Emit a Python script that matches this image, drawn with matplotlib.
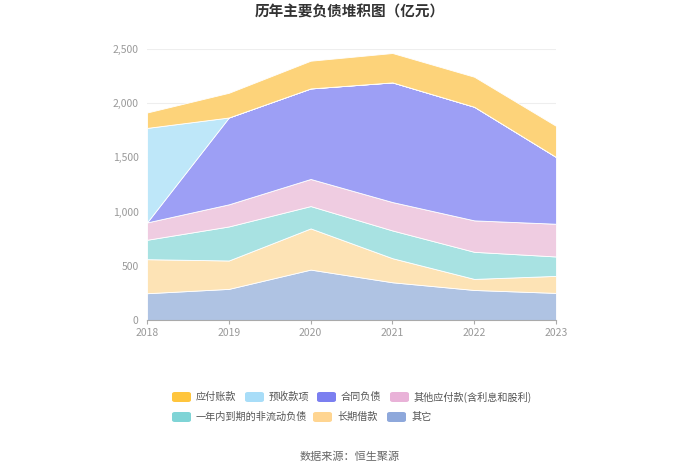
import matplotlib
matplotlib.use("Agg")
import matplotlib.pyplot as plt
from matplotlib.patches import FancyBboxPatch
import numpy as np

plt.rcParams['font.family'] = ['Noto Sans CJK SC', 'DejaVu Sans']

years = [2018, 2019, 2020, 2021, 2022, 2023]
series_names = ["其它", "长期借款", "一年内到期的非流动负债", "其他应付款(含利息和股利)", "合同负债", "预收款项", "应付账款"]
other = [247, 287, 465, 348, 277, 250]
long_loan = [314, 262, 380, 222, 102, 157]
current_nc = [179, 314, 206, 256, 250, 179]
other_pay = [160, 204, 250, 262, 290, 302]
contract = [0, 801, 835, 1104, 1048, 616]
advance = [872, 0, 0, 0, 0, 0]
ap = [142, 228, 256, 271, 277, 287]

fill_colors = ["#AFC3E3", "#FDE3B5", "#A8E2E2", "#EFCCE1", "#9D9FF5", "#BEE7F9", "#FDD37A"]
swatch_colors = ["#8EA8DB", "#FFD591", "#7FD4D6", "#E9B2D8", "#7B7FF0", "#A8DDF8", "#FFC53D"]

fig = plt.figure(figsize=(7, 4.74), dpi=100)
ax = fig.add_axes([147/700, 1-320/474, (556-147)/700, (320-49)/474])
ax.stackplot(years, other, long_loan, current_nc, other_pay, contract, advance, ap,
             colors=fill_colors, edgecolor="white", linewidth=0.6)
ax.set_xlim(2018, 2023)
ax.set_ylim(0, 2500)
ax.set_xticks(years)
ax.set_yticks([0, 500, 1000, 1500, 2000, 2500])
ax.set_yticklabels(["0", "500", "1,000", "1,500", "2,000", "2,500"])
ax.tick_params(axis='both', colors="#999999", labelsize=7.5, length=0)
ax.tick_params(axis='x', length=3, color="#AAAAAA", pad=3)
ax.tick_params(axis='y', pad=6)
for s in ["top", "right", "left"]:
    ax.spines[s].set_visible(False)
ax.spines["bottom"].set_color("#AAAAAA")
ax.grid(axis='y', color="#EEEEEE", linewidth=0.8)
ax.set_axisbelow(True)

fig.text(350/700, 1-12/474, "历年主要负债堆积图（亿元）", ha="center", va="center",
         fontsize=10.5, fontweight="bold", color="#333333")

legend_items = [
    ("应付账款", 6, 172, 397),
    ("预收款项", 5, 245, 397),
    ("合同负债", 4, 317, 397),
    ("其他应付款(含利息和股利)", 3, 390, 397),
    ("一年内到期的非流动负债", 2, 172, 417),
    ("长期借款", 1, 313, 417),
    ("其它", 0, 387, 417),
]
for label, idx, x, y in legend_items:
    p = FancyBboxPatch(((x)/700, 1-(y+5)/474), 19/700, 10/474,
                       boxstyle="round,pad=0,rounding_size=0.004",
                       transform=fig.transFigure, facecolor=swatch_colors[idx],
                       edgecolor="none")
    fig.add_artist(p)
    fig.text((x+24)/700, 1-y/474, label, ha="left", va="center", fontsize=7.3, color="#555555")

fig.text(350/700, 1-457/474, "数据来源：恒生聚源", ha="center", va="center",
         fontsize=8, color="#666666")

fig.savefig("out.png", dpi=100)
